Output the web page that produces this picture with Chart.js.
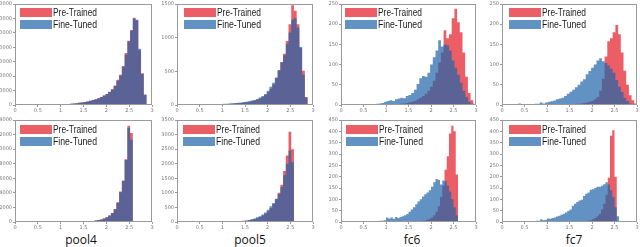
<!DOCTYPE html>
<html>
<head>
<meta charset="utf-8">
<script src="https://cdn.jsdelivr.net/npm/chart.js@4.4.1/dist/chart.umd.min.js"></script>
<style>
  html, body { margin: 0; padding: 0; background: #fff; }
  #wrap { position: relative; width: 640px; height: 247px; overflow: hidden; }
  #wrap canvas { position: absolute; }
  .name { position: absolute; width: 100px; text-align: center; font: 12px "Open Sans", sans-serif; line-height: 13px; color: #111; }
</style>
</head>
<body>
<div id="wrap"></div>
<script>
// histogram x range (bins split it evenly)
const X_MAX = 3;
const X_STEP = 0.5;
const seriesNames = ['Pre-Trained', 'Fine-Tuned'];
const layerNames = ['pool4', 'pool5', 'fc6', 'fc7'];

// top row, 50 bins of 0.06
const pool4TopRed  = [0,0,0,0,0,0,0,0,0,50, 100,150,200,250,300,350,450,550,650,750, 900,1050,1250,1500,1800,2100,2500,2900,3400,4000, 4700,5500,6500,7700,9200,11000,13500,17500,21000,27000, 36000,44500,52000,60500,58500,38000,22000,7000,500,0];
const pool4TopBlue = [0,0,0,0,0,0,0,0,0,50, 100,150,200,250,300,350,450,550,650,750, 900,1050,1250,1500,1800,2100,2500,2900,3400,4000, 4700,5500,6500,7600,9000,10800,13200,16800,20500,26500, 34800,44000,51500,60000,59000,39000,21500,7200,600,0];

const pool5TopRed  = [0,0,0,2,3,4,4,5,5,6, 6,7,8,9,10,11,12,14,16,18, 20,22,26,30,35,40,47,55,65,78, 95,118,150,190,240,310,400,510,630,760, 950,1200,1480,1400,1200,850,510,120,10,0];
const pool5TopBlue = [0,0,0,2,3,4,5,5,6,7, 7,8,9,10,12,14,15,17,20,22, 25,28,32,38,44,48,55,65,76,90, 110,135,165,210,270,330,410,520,640,740, 910,1075,1270,1290,1150,860,450,110,8,0];

const fc6TopRed  = [0,0,0,0,0,0,0,0,0,0, 0,0,0,0,0,0,1,1,1,1, 1,2,3,4,5,7,8,10,14,18, 22,28,35,45,60,80,105,130,185,165, 175,215,238,205,180,130,70,30,12,3];
const fc6TopBlue = [0,0,0,0,0,0,0,0,1,1, 2,2,2,3,4,5,8,10,12,10, 14,16,18,17,22,25,30,38,52,66, 72,70,80,100,118,135,160,145,150,148, 135,110,92,75,55,35,20,8,3,0];

const fc7TopRed  = [0,0,0,0,0,0,0,0,0,0, 0,0,0,0,0,0,0,0,0,1, 1,1,1,1,2,2,2,3,3,4, 5,6,8,10,14,20,35,65,120,158, 165,180,198,175,130,85,50,24,12,4];
const fc7TopBlue = [0,0,1,1,1,1,4,1,2,2, 2,2,3,3,6,4,6,8,9,11, 14,16,18,22,28,33,38,44,50,58, 64,76,84,92,100,110,116,108,104,98, 90,80,62,45,32,18,10,4,1,0];

// bottom row: pool layers 50 bins of 0.06, fc layers 60 bins of 0.05
const pool4BotRed  = [0,0,0,0,0,0,0,0,0,0, 0,0,0,0,0,0,2,3,5,7, 10,15,20,30,40,55,75,100,140,190, 260,350,480,650,900,1250,1800,2700,4200,5700, 8600,13200,12200,0,0,0,0,0,0,0];
const pool4BotBlue = [0,0,0,0,0,0,0,0,0,0, 0,0,0,0,0,0,2,3,5,7, 10,15,20,30,40,55,75,100,140,190, 260,350,480,650,900,1250,1750,2650,4100,5600, 8500,12900,11300,0,0,0,0,0,0,0];

const pool5BotRed  = [0,0,0,0,0,0,0,0,0,0, 0,0,0,0,0,1,2,3,4,6, 10,15,20,25,35,45,60,80,100,130, 170,220,280,370,480,620,780,1000,1280,1750, 2280,3100,2500,0,0,0,0,0,0,0];
const pool5BotBlue = [0,0,0,0,0,0,0,0,0,0, 0,0,0,0,0,1,2,3,5,8, 12,16,22,30,40,55,70,95,120,160, 200,260,330,420,540,650,800,960,1200,1600, 2000,2450,2050,0,0,0,0,0,0,0];

const fc6BotRed  = [0,0,0,0,0,0,0,0,0,0, 0,0,0,0,0,0,0,0,0,0, 0,0,0,0,0,0,0,0,0,1, 1,1,2,2,3,4,5,7,10,14, 20,30,45,70,110,160,230,290,390,425, 400,210,0,0,0,0,0,0,0,0];
const fc6BotBlue = [0,0,0,0,0,0,0,0,1,1, 1,2,2,2,3,3,4,5,5,8, 20,15,20,14,22,18,22,25,30,35, 45,55,65,78,90,100,112,122,130,140, 155,175,190,185,165,183,180,160,135,100, 65,30,0,0,0,0,0,0,0,0];

const fc7BotRed  = [0,0,0,0,0,0,0,0,0,0, 0,0,0,0,0,0,0,0,0,0, 0,0,0,0,0,0,0,0,0,0, 1,1,2,2,3,3,4,5,6,8, 12,18,25,35,55,80,120,195,380,405, 200,0,0,0,0,0,0,0,0,0];
const fc7BotBlue = [0,0,2,2,1,2,2,2,3,3, 3,3,3,4,4,5,6,12,8,10, 15,14,18,20,24,28,32,36,42,48, 55,72,80,88,95,98,115,125,130,142, 145,150,155,155,160,166,175,165,140,110, 65,25,0,0,0,0,0,0,0,0];

// y axis max / step per panel
const yMaxTop  = [70000, 1500, 250, 250];
const yStepTop = [10000, 500, 50, 50];
const yMaxBot  = [14000, 3500, 450, 450];
const yStepBot = [2000, 500, 50, 50];

const RED = 'rgba(230, 40, 50, 0.75)';
const BLUE = 'rgba(30, 100, 170, 0.7)';

// placement of each panel inside the 640x247 figure
const yAxisW = [15, 17, 21, 22];
const padR = [8, 7, 4, 3];
const legendDx = [[5, 7, 4, 7], [5, 6, 5, 7]];
const nameCenter = [81, 250, 412, 574];

function histPoints(values) {
  const w = X_MAX / values.length;
  const pts = values.map((v, i) => ({ x: i * w, y: v }));
  pts.push({ x: X_MAX, y: 0 });
  return pts;
}

// axes box + legend drawn inside the plot area
const framePlugin = {
  id: 'frame',
  afterDraw(chart, args, opts) {
    const { ctx, chartArea: a } = chart;
    ctx.save();
    ctx.strokeStyle = '#9a9a9a';
    ctx.lineWidth = 1;
    ctx.strokeRect(Math.round(a.left) + 0.5, Math.round(a.top) + 0.5,
      Math.round(a.right - a.left) - 1, Math.round(a.bottom - a.top) - 1);
    const x0 = Math.round(a.left + opts.dx);
    const y0 = Math.round(a.top + opts.dy);
    ctx.font = '10px "Liberation Sans Narrow", "Liberation Sans", sans-serif';
    ctx.textBaseline = 'middle';
    chart.data.datasets.forEach((ds, i) => {
      const y = y0 + i * 12;
      ctx.fillStyle = ds.backgroundColor;
      ctx.fillRect(x0, y, 32, 9);
      ctx.fillStyle = '#1a1a1a';
      ctx.fillText(ds.label, x0 + 33, y + 5, 44);
    });
    ctx.restore();
  }
};

const tickFont = { size: 5, family: 'DejaVu Sans' };

function makePanel(row, col, red, blue, yMax, yStep) {
  const cv = document.createElement('canvas');
  cv.width = 160;
  cv.height = 115;
  cv.style.left = (col * 160) + 'px';
  cv.style.top = (row * 115) + 'px';
  document.getElementById('wrap').appendChild(cv);
  const xh = row === 0 ? 10 : 8;
  new Chart(cv, {
    type: 'line',
    data: {
      datasets: [
        { label: seriesNames[0], data: histPoints(red), backgroundColor: RED, fill: 'origin', stepped: true, order: 2 },
        { label: seriesNames[1], data: histPoints(blue), backgroundColor: BLUE, fill: 'origin', stepped: true, order: 1 }
      ]
    },
    options: {
      responsive: false,
      animation: false,
      events: [],
      layout: { padding: { top: row === 0 ? 3 : 5, right: padR[col], left: 0, bottom: 0 } },
      elements: {
        point: { radius: 0 },
        line: { borderWidth: 0, borderColor: 'rgba(0,0,0,0)', tension: 0 }
      },
      plugins: {
        legend: { display: false },
        tooltip: { enabled: false },
        frame: { dx: legendDx[row][col], dy: row === 0 ? 4 : 5 }
      },
      scales: {
        x: {
          type: 'linear', min: 0, max: X_MAX,
          grid: { drawOnChartArea: false, tickLength: 2, color: '#999' },
          border: { display: false },
          ticks: {
            stepSize: X_STEP, autoSkip: false, maxRotation: 0, padding: 1, font: tickFont, color: '#777',
            callback: v => String(Math.round(v * 10) / 10)
          },
          afterFit: s => { s.height = xh; }
        },
        y: {
          min: 0, max: yMax,
          grid: { drawOnChartArea: false, tickLength: 2, color: '#999' },
          border: { display: false },
          ticks: { stepSize: yStep, autoSkip: false, padding: 1, font: tickFont, color: '#777', callback: v => String(v) },
          afterFit: s => { s.width = yAxisW[col]; }
        }
      }
    },
    plugins: [framePlugin]
  });
}

const topRed = [pool4TopRed, pool5TopRed, fc6TopRed, fc7TopRed];
const topBlue = [pool4TopBlue, pool5TopBlue, fc6TopBlue, fc7TopBlue];
const botRed = [pool4BotRed, pool5BotRed, fc6BotRed, fc7BotRed];
const botBlue = [pool4BotBlue, pool5BotBlue, fc6BotBlue, fc7BotBlue];

for (let c = 0; c < 4; c++) {
  makePanel(0, c, topRed[c], topBlue[c], yMaxTop[c], yStepTop[c]);
  makePanel(1, c, botRed[c], botBlue[c], yMaxBot[c], yStepBot[c]);
  const d = document.createElement('div');
  d.className = 'name';
  d.style.left = (nameCenter[c] - 50) + 'px';
  d.style.top = '233px';
  d.textContent = layerNames[c];
  document.getElementById('wrap').appendChild(d);
}
</script>
</body>
</html>
